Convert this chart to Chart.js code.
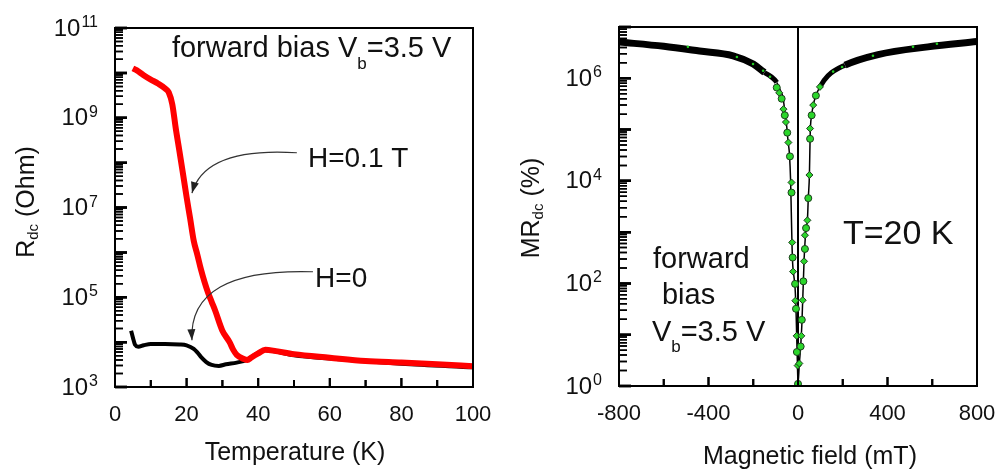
<!DOCTYPE html>
<html lang="en">
<head>
<meta charset="UTF-8">
<title>Rdc and MRdc</title>
<script src="https://cdn.jsdelivr.net/npm/chart.js"></script>
<style>
  body { margin: 0; background: #fff; }
  .panel { position: absolute; top: 0; height: 469px; }
  #left { left: 0; width: 495px; }
  #right { left: 495px; width: 503px; }
</style>
</head>
<body>
<div class="panel" id="left"><canvas id="chartT"></canvas></div>
<div class="panel" id="right"><canvas id="chartB"></canvas></div>
<script>
// left panel: Rdc vs temperature
const tempRed = [5, 6, 8, 10, 12, 14, 15, 16, 17, 18, 19, 20, 21, 22, 23, 24, 25, 26, 27, 28, 30, 32, 33, 34, 36, 37, 38, 40, 42, 45, 50, 60, 70, 80, 90, 100];
const rdcRed = [1.26e10, 1.15e10, 8.9e9, 7.1e9, 5.8e9, 4.5e9, 3.7e9, 2.0e9, 5.6e8, 1.8e8, 5.6e7, 1.7e7, 5.6e6, 1.8e6, 8.9e5, 4.2e5, 2.2e5, 1.26e5, 7.9e4, 5.0e4, 1.8e4, 1.0e4, 6.8e3, 5.2e3, 4.2e3, 4.0e3, 4.5e3, 5.6e3, 6.8e3, 6.3e3, 5.4e3, 4.5e3, 3.8e3, 3.5e3, 3.2e3, 2.9e3];
const tempBlack = [4.5, 5, 5.6, 6.5, 8, 10, 14, 18, 20, 22, 23, 24, 25.5, 27, 29, 31, 34, 36.8, 38, 40, 42, 50, 60, 80, 100];
const rdcBlack = [1.8e4, 1.26e4, 8.7e3, 7.9e3, 8.5e3, 9.1e3, 9.1e3, 8.9e3, 8.5e3, 7.1e3, 5.9e3, 4.7e3, 3.6e3, 3.1e3, 2.95e3, 3.2e3, 3.5e3, 4.0e3, 4.6e3, 5.8e3, 6.6e3, 5.1e3, 4.3e3, 3.3e3, 2.75e3];

// right panel: MRdc vs magnetic field
const fieldLine = [-800, -600, -440, -290, -200, -150, -120, -95, -80, -67, -58, -50, -45, -38, -33, -30, -27, -24, -20, -13, -9, -6, -3, 0,
  6, 12, 17, 21, 24, 27, 31, 36, 42, 46, 51, 54, 56, 61, 68, 80, 98, 134, 210, 358, 581, 800];
const mrLine = [5.1e6, 4.2e6, 3.4e6, 2.75e6, 1.9e6, 1.3e6, 1.07e6, 8.3e5, 6.0e5, 4.2e5, 2.1e5, 1.1e5, 6.3e4, 3.2e4, 1.0e4, 2.5e3, 630, 250, 160, 80, 32, 10, 3.2, 1.1,
  2.75, 5.9, 15, 47, 110, 270, 600, 1.2e3, 1.7e3, 4.6e3, 1.3e4, 6.6e4, 1.2e5, 1.9e5, 3.0e5, 4.6e5, 6.8e5, 1.12e6, 1.8e6, 2.9e6, 4.1e6, 5.2e6];
const fieldGreen = [-95, -84, -73, -65, -59, -54, -48, -43, -36, -29, -29, -26, -24, -22, -13, -12, -9, -6, -5, -1.5, 0,
  6, 12, 15, 17, 21, 24, 27, 31, 31, 36, 42, 46, 51, 54, 54, 61, 68, 80, 98];
const mrGreen = [6.6e5, 5.2e5, 4.0e5, 2.5e5, 1.9e5, 1.4e5, 8.7e4, 5.6e4, 3.0e4, 9.3e3, 5.9e3, 630, 320, 170, 98, 46, 32, 9.5, 4.6, 2.5, 1.1,
  2.75, 5.9, 9.5, 19.5, 47, 110, 270, 470, 870, 1.2e3, 1.7e3, 4.6e3, 1.3e4, 6.6e4, 1.05e5, 1.9e5, 3.0e5, 4.6e5, 6.8e5];
const fieldSpeck = [-492, -273, -201, -156, -125, 157, 197, 335, 514, 621];
const mrSpeck = [4.1e6, 2.6e6, 1.9e6, 1.4e6, 1.07e6, 1.35e6, 1.66e6, 2.75e6, 4.1e6, 4.7e6];

// tick labels
const tempTicks = [0, 20, 40, 60, 80, 100];
const fieldTicks = [-800, -400, 0, 400, 800];
const rdcExps = [3, 5, 7, 9, 11];
const mrExps = [0, 2, 4, 6];

const FONT = '"Liberation Sans", Arial, sans-serif';
Chart.defaults.font.family = FONT;
Chart.defaults.color = '#111';

const pts = (xs, ys) => xs.map((x, i) => ({ x: x, y: ys[i] }));

// log axis: a tick at every 1..9 x 10^n
function logTicks(scale) {
  const lo = Math.round(Math.log10(scale.min)), hi = Math.round(Math.log10(scale.max));
  const t = [];
  for (let e = lo; e <= hi; e++) {
    for (let m = 1; m <= 9; m++) {
      const v = m * Math.pow(10, e);
      if (v <= scale.max * 1.0001) t.push({ value: v });
    }
  }
  scale.ticks = t;
}
const isDecade = v => Math.abs(Math.log10(v) - Math.round(Math.log10(v))) < 1e-9;

function drawRich(ctx, n, px, py) {
  const size = n.size, subSize = Math.round(size * 0.6);
  ctx.save();
  ctx.translate(px, py);
  if (n.rot) ctx.rotate(-Math.PI / 2);
  let w = 0;
  const widths = n.parts.map(p => {
    ctx.font = (p.sub ? subSize : size) + 'px ' + FONT;
    const m = ctx.measureText(p.t).width;
    w += m;
    return m;
  });
  let x0 = n.center ? -w / 2 : 0;
  const base = n.center ? size * 0.36 : 0;
  ctx.textAlign = 'left';
  ctx.textBaseline = 'alphabetic';
  n.parts.forEach((p, i) => {
    ctx.font = (p.sub ? subSize : size) + 'px ' + FONT;
    ctx.fillText(p.t, x0, base + (p.sub ? size * (n.subDy || 0.4) : 0));
    x0 += widths[i];
  });
  ctx.restore();
}

function drawTicks(chart, opts) {
  const ctx = chart.ctx, xs = chart.scales.x, ys = chart.scales.y, area = chart.chartArea;
  ctx.save();
  ctx.fillStyle = '#000';
  ctx.beginPath();
  xs.ticks.forEach(t => {
    const px = xs.getPixelForValue(t.value);
    const len = opts.xLabels.indexOf(t.value) >= 0 ? 9 : 7;
    ctx.rect(px - 1, area.bottom - len, 2, len);
  });
  ys.ticks.forEach(t => {
    const py = ys.getPixelForValue(t.value);
    const major = isDecade(t.value);
    ctx.rect(area.left, py - (major ? 1.25 : 0.75), major ? 12 : 8, major ? 2.5 : 1.5);
  });
  ctx.fill();
  ctx.restore();
}

// inward ticks, frame, 10^n labels, annotations
const notesPlugin = {
  id: 'notes',
  afterDatasetsDraw(chart, args, opts) {
    drawTicks(chart, opts);
  },
  afterDraw(chart, args, opts) {
    const ctx = chart.ctx, xs = chart.scales.x, ys = chart.scales.y, area = chart.chartArea;
    drawTicks(chart, opts);
    ctx.save();
    ctx.strokeStyle = '#000';
    ctx.lineWidth = 2;
    ctx.strokeRect(area.left, area.top, area.right - area.left, area.bottom - area.top);
    ctx.fillStyle = '#111';
    opts.exps.forEach(e => {
      const py = ys.getPixelForValue(Math.pow(10, e));
      const right = area.left - 17;
      ctx.font = '16px ' + FONT;
      const sup = String(e);
      const sw = ctx.measureText(sup).width;
      ctx.textAlign = 'left';
      ctx.textBaseline = 'alphabetic';
      ctx.fillText(sup, right - sw, py - 1);
      ctx.font = '24px ' + FONT;
      ctx.textAlign = 'right';
      ctx.textBaseline = 'middle';
      ctx.fillText('10', right - sw - 1, py + 1);
    });
    opts.texts.forEach(n => {
      const px = n.data ? xs.getPixelForValue(n.x) : n.x;
      const py = n.data ? ys.getPixelForValue(n.y) : n.y;
      drawRich(ctx, n, px, py);
    });
    ctx.strokeStyle = '#333';
    ctx.fillStyle = '#222';
    ctx.lineWidth = 1.2;
    (opts.arrows || []).forEach(a => {
      const p0 = [xs.getPixelForValue(a.from[0]), ys.getPixelForValue(a.from[1])];
      const c = [xs.getPixelForValue(a.c[0]), ys.getPixelForValue(a.c[1])];
      const p2 = [xs.getPixelForValue(a.to[0]), ys.getPixelForValue(a.to[1])];
      ctx.beginPath();
      ctx.moveTo(p0[0], p0[1]);
      ctx.quadraticCurveTo(c[0], c[1], p2[0], p2[1]);
      ctx.stroke();
      const ang = Math.atan2(p2[1] - c[1], p2[0] - c[0]);
      ctx.beginPath();
      ctx.moveTo(p2[0], p2[1]);
      ctx.lineTo(p2[0] - 11 * Math.cos(ang) + 4 * Math.sin(ang), p2[1] - 11 * Math.sin(ang) - 4 * Math.cos(ang));
      ctx.lineTo(p2[0] - 11 * Math.cos(ang) - 4 * Math.sin(ang), p2[1] - 11 * Math.sin(ang) + 4 * Math.cos(ang));
      ctx.closePath();
      ctx.fill();
    });
    ctx.restore();
  }
};

function xAxis(min, max, step, labels, h) {
  return {
    type: 'linear', min: min, max: max,
    afterFit: s => { s.height = h; s.paddingLeft = 0; s.paddingRight = 0; },
    ticks: {
      stepSize: step, autoSkip: false, maxRotation: 0, padding: 15, color: '#111',
      font: { size: 22 },
      callback: v => labels.includes(v) ? String(v) : ''
    },
    grid: { display: false, drawTicks: false },
    border: { color: '#000', width: 2 }
  };
}
function yAxis(min, max, w) {
  return {
    type: 'logarithmic', min: min, max: max,
    afterFit: s => { s.width = w; s.paddingTop = 0; s.paddingBottom = 0; },
    afterBuildTicks: logTicks,
    ticks: { autoSkip: false, callback: () => '' },
    grid: { display: false, drawTicks: false },
    border: { color: '#000', width: 2 }
  };
}

// left chart
new Chart(document.getElementById('chartT'), {
  type: 'line',
  data: {
    datasets: [
      {
        label: 'H=0.1 T', data: pts(tempRed, rdcRed), order: 0,
        borderColor: '#ff0000', borderWidth: 6, pointRadius: 0,
        cubicInterpolationMode: 'monotone'
      },
      {
        label: 'H=0', data: pts(tempBlack, rdcBlack), order: 1,
        borderColor: '#000', borderWidth: 4, pointRadius: 0,
        cubicInterpolationMode: 'monotone'
      }
    ]
  },
  options: {
    responsive: true, maintainAspectRatio: false, animation: false,
    layout: { padding: { top: 28, right: 22, left: 0, bottom: 0 } },
    scales: { x: xAxis(0, 100, 10, tempTicks, 82), y: yAxis(1e3, 1e11, 115) },
    plugins: {
      legend: { display: false }, tooltip: { enabled: false },
      notes: {
        exps: rdcExps,
        xLabels: tempTicks,
        texts: [
          { x: 25, y: 202, rot: true, center: true, size: 25, subDy: 0.15, parts: [{ t: 'R' }, { t: 'dc', sub: true }, { t: ' (Ohm)' }] },
          { x: 295, y: 451, center: true, size: 25, parts: [{ t: 'Temperature (K)' }] },
          { data: true, x: 15.9, y: 2.26e10, size: 29, parts: [{ t: 'forward bias V' }, { t: 'b', sub: true }, { t: '=3.5 V' }] },
          { data: true, x: 53.9, y: 7.9e7, size: 28, parts: [{ t: 'H=0.1 T' }] },
          { data: true, x: 55.9, y: 1.7e5, size: 28, parts: [{ t: 'H=0' }] }
        ],
        arrows: [
          { from: [50.8, 1.66e8], c: [25.1, 2.24e8], to: [21.5, 2.1e7] },
          { from: [55.3, 3.7e5], c: [20.4, 4.5e5], to: [21.5, 1.1e4] }
        ]
      }
    }
  },
  plugins: [notesPlugin]
});

// right chart
new Chart(document.getElementById('chartB'), {
  type: 'line',
  data: {
    datasets: [
      {
        label: 'zero', data: [{ x: 0, y: 1 }, { x: 0, y: 1e7 }], order: 3,
        borderColor: '#000', borderWidth: 2, pointRadius: 0
      },
      {
        label: 'MR', data: pts(fieldLine, mrLine), order: 2,
        borderColor: '#000', borderWidth: 1.5, pointRadius: 0,
        cubicInterpolationMode: 'monotone',
        segment: {
          borderWidth: ctx => {
            const m = Math.min(Math.abs(ctx.p0.parsed.x), Math.abs(ctx.p1.parsed.x));
            return m >= 150 ? 7 : (m >= 90 ? 5 : 1.5);
          }
        }
      },
      {
        label: 'MR markers', data: pts(fieldGreen, mrGreen), order: 1, showLine: false,
        pointRadius: 3.5, pointBackgroundColor: '#2bd62b', pointBorderColor: '#1d3d1d', pointBorderWidth: 1,
        pointStyle: ctx => ctx.dataIndex % 2 ? 'rectRot' : 'circle'
      },
      {
        label: 'MR dots', data: pts(fieldSpeck, mrSpeck), order: 0, showLine: false,
        pointRadius: 1.3, pointBackgroundColor: '#22cc22', pointBorderWidth: 0
      }
    ]
  },
  options: {
    responsive: true, maintainAspectRatio: false, animation: false,
    layout: { padding: { top: 27, right: 21, left: 0, bottom: 0 } },
    scales: { x: xAxis(-800, 800, 200, fieldTicks, 83), y: yAxis(1, 1e7, 124) },
    plugins: {
      legend: { display: false }, tooltip: { enabled: false },
      notes: {
        exps: mrExps,
        xLabels: fieldTicks,
        texts: [
          { x: 35, y: 208, rot: true, center: true, size: 25, subDy: 0.15, parts: [{ t: 'MR' }, { t: 'dc', sub: true }, { t: ' (%)' }] },
          { x: 315, y: 455, center: true, size: 25, parts: [{ t: 'Magnetic field (mT)' }] },
          { data: true, x: 201, y: 590, size: 34, parts: [{ t: 'T=20 K' }] },
          { data: true, x: -648, y: 200, size: 29, parts: [{ t: 'forward' }] },
          { data: true, x: -608, y: 40, size: 29, parts: [{ t: 'bias' }] },
          { data: true, x: -653, y: 7.6, size: 29, parts: [{ t: 'V' }, { t: 'b', sub: true }, { t: '=3.5 V' }] }
        ],
        arrows: []
      }
    }
  },
  plugins: [notesPlugin]
});
</script>
</body>
</html>
